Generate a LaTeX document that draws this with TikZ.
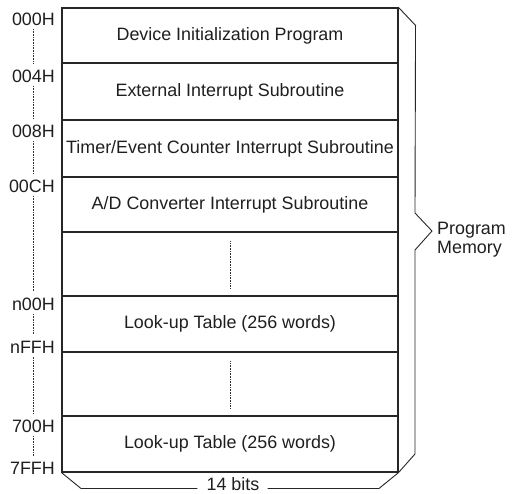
\documentclass[tikz,border=0pt]{standalone}
\usepackage{fontspec}
\setmainfont{Liberation Sans}
\begin{document}
\begin{tikzpicture}[x=1pt,y=-1pt,
  every node/.style={font=\fontsize{17.9}{19.3}\selectfont, text=black!88},
  memrow/.style={draw=black!85, line width=1.1pt, minimum width=336pt, inner sep=0pt, anchor=center},
  addr/.style={anchor=east, inner sep=0pt},
  dotline/.style={line width=0.8pt, dash pattern=on 0.7pt off 0.9pt, draw=black!80},
  bracel/.style={draw=black!85, line width=0.9pt, line join=miter}]
\useasboundingbox (0,0) rectangle (512,494);
% memory rows
\node[memrow, minimum height=55pt] (r1) at (230,35.5) {Device Initialization Program};
\node[memrow, minimum height=57pt] (r2) at (230,91.5) {External Interrupt Subroutine};
\node[memrow, minimum height=57pt] (r3) at (230,148.5) {Timer/Event Counter Interrupt Subroutine};
\node[memrow, minimum height=55pt] (r4) at (230,204.5) {A/D Converter Interrupt Subroutine};
\node[memrow, minimum height=64pt] (r5) at (230,264) {};
\node[memrow, minimum height=56pt] (r6) at (230,324) {Look-up Table (256 words)};
\node[memrow, minimum height=64pt] (r7) at (230,384) {};
\node[memrow, minimum height=56pt] (r8) at (230,444) {Look-up Table (256 words)};
% inner dotted continuation marks
\draw[dotline] ([yshift=-10pt]r5.north) -- ([yshift=8pt]r5.south);
\draw[dotline] ([yshift=-10pt]r7.north) -- ([yshift=8pt]r7.south);
% address labels
\node[addr] (a0) at (55,19) {000H};
\node[addr] (a1) at (55,76) {004H};
\node[addr] (a2) at (55,131) {008H};
\node[addr] (a3) at (55,186) {00CH};
\node[addr] (a4) at (55,304) {n00H};
\node[addr] (a5) at (55,347) {nFFH};
\node[addr] (a6) at (55,426) {700H};
\node[addr] (a7) at (55,468) {7FFH};
\coordinate (dx) at (33,0);
\foreach \p/\q in {a0/a1,a1/a2,a2/a3,a3/a4,a4/a5,a5/a6,a6/a7}{
  \draw[dotline, shorten <=3.5pt, shorten >=6pt] (\p.south -| dx) -- (\q.north -| dx);
}
% right brace
\node[anchor=west, align=left, inner sep=0pt] (pm) at (437,239.5) {Program\\Memory};
\coordinate (tip) at (432,231);
\draw[bracel] (r1.north east) -- ++(17,18) -- (415,213) -- (tip) -- (415,250) -- (415,454) -- (r8.south east);
% bottom brace
\node[inner sep=0pt] (bits) at (233,484) {14 bits};
\draw[bracel] (r8.south west) -- (81,488.5) -- ([xshift=-9pt]bits.west |- 0,488.5);
\draw[bracel] ([xshift=8pt]bits.east |- 0,488.5) -- (379,488.5) -- (r8.south east);
\end{tikzpicture}
\end{document}
